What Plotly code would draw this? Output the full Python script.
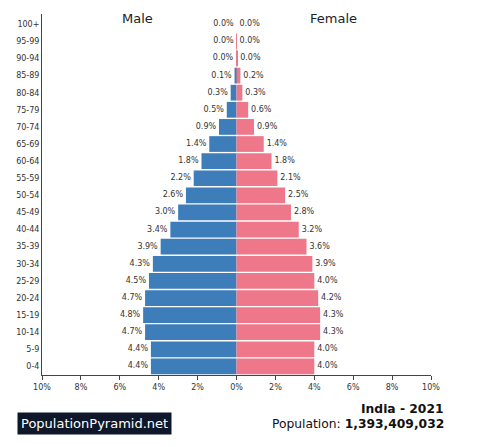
import plotly.graph_objects as go

ages = ["0-4", "5-9", "10-14", "15-19", "20-24", "25-29", "30-34", "35-39",
        "40-44", "45-49", "50-54", "55-59", "60-64", "65-69", "70-74",
        "75-79", "80-84", "85-89", "90-94", "95-99", "100+"]
male = [4.4, 4.4, 4.7, 4.8, 4.7, 4.5, 4.3, 3.9, 3.4, 3.0, 2.6, 2.2, 1.8, 1.4,
        0.9, 0.5, 0.3, 0.1, 0.02, 0.0, 0.0]
female = [4.0, 4.0, 4.3, 4.3, 4.2, 4.0, 3.9, 3.6, 3.2, 2.8, 2.5, 2.1, 1.8, 1.4,
          0.9, 0.6, 0.3, 0.2, 0.04, 0.01, 0.0]
tick_vals = [-10, -8, -6, -4, -2, 0, 2, 4, 6, 8, 10]
tick_text = ["10%", "8%", "6%", "4%", "2%", "0%", "2%", "4%", "6%", "8%", "10%"]

# page body has an 8px margin, so the figure is shrunk and shifted by that
OFF = 8
W, H = 483 - OFF, 447 - OFF
ML, MR, MT, MB = 42 - OFF, 52, 14 - OFF, 72

fig = go.Figure()
fig.add_trace(go.Bar(
    y=ages, x=[-v for v in male], orientation="h", name="Male",
    marker=dict(color="#3d7dba", line=dict(width=0)), hoverinfo="skip",
))
fig.add_trace(go.Bar(
    y=ages, x=female, orientation="h", name="Female",
    marker=dict(color="#ee7889", line=dict(width=0)), hoverinfo="skip",
))
# value labels
fig.add_trace(go.Scatter(
    y=ages, x=[-v - 0.15 for v in male], mode="text",
    text=[f"{v:.1f}%" for v in male], textposition="middle left",
    textfont=dict(size=8, color="#333333"), cliponaxis=False,
))
fig.add_trace(go.Scatter(
    y=ages, x=[v + 0.15 for v in female], mode="text",
    text=[f"{v:.1f}%" for v in female], textposition="middle right",
    textfont=dict(size=8, color="#333333"), cliponaxis=False,
))

def px_x(p):
    return (p - OFF - ML) / (W - ML - MR)

def px_y(p):
    return (H - MB - (p - OFF)) / (H - MT - MB)

fig.update_layout(
    width=W, height=H,
    margin=dict(l=ML, r=MR, t=MT, b=MB),
    barmode="overlay", bargap=0.08,
    showlegend=False,
    plot_bgcolor="white", paper_bgcolor="white",
    font=dict(family="DejaVu Sans", color="#333333"),
    xaxis=dict(range=[-10, 10], tickvals=tick_vals, ticktext=tick_text,
               tickfont=dict(size=8), showgrid=False, zeroline=False,
               showline=True, linecolor="#444444", linewidth=1,
               ticks="outside", ticklen=4, tickcolor="#444444",
               automargin=False),
    yaxis=dict(categoryorder="array", categoryarray=ages, range=[-0.5, 20.6],
               tickfont=dict(size=8), showgrid=False, zeroline=False,
               showline=True, linecolor="#444444", linewidth=1, ticks="",
               automargin=False),
    annotations=[
        dict(text="Male", x=-5.1, xref="x", y=px_y(19), yref="paper",
             yanchor="middle", showarrow=False,
             font=dict(size=13, color="#222222")),
        dict(text="Female", x=5.0, xref="x", y=px_y(19), yref="paper",
             yanchor="middle", showarrow=False,
             font=dict(size=13, color="#222222")),
        dict(text="<b>India - 2021</b>", x=px_x(446), y=px_y(409),
             xref="paper", yref="paper", xanchor="right", yanchor="middle",
             showarrow=False, font=dict(size=12.3, color="#111111")),
        dict(text="Population: <b>1,393,409,032</b>", x=px_x(446), y=px_y(424),
             xref="paper", yref="paper", xanchor="right", yanchor="middle",
             showarrow=False, font=dict(size=12.3, color="#111111")),
        dict(text="PopulationPyramid.net", x=px_x(17), y=px_y(423),
             xref="paper", yref="paper", xanchor="left", yanchor="middle",
             showarrow=False, bgcolor="#0f172a", borderpad=3,
             font=dict(color="white", size=13)),
    ],
)

fig.write_html("out.html")
